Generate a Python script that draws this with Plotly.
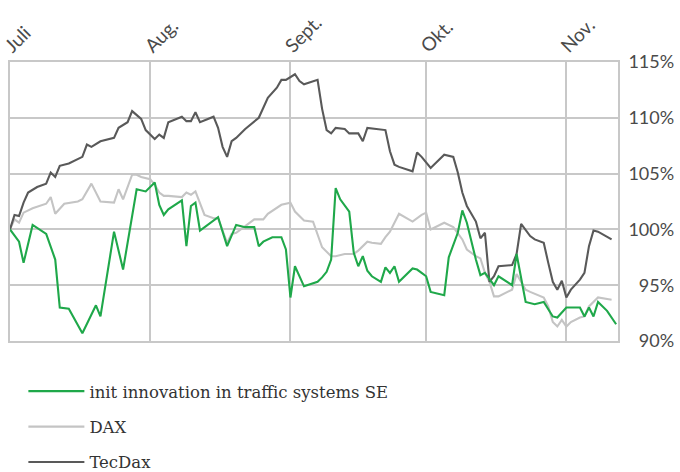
import plotly.graph_objects as go

# ---- data -------------------------------------------------------------
month_ticks = ["2019-07-01", "2019-08-01", "2019-09-01", "2019-10-01", "2019-11-01"]
month_labels = ["Juli", "Aug.", "Sept.", "Okt.", "Nov."]

y_ticks = [90, 95, 100, 105, 110, 115]
y_labels = ["\u200790%", "\u200795%", "100%", "105%", "110%", "115%"]

tec_dates = ["2019-07-01", "2019-07-02", "2019-07-03", "2019-07-04", "2019-07-05", "2019-07-07",
             "2019-07-09", "2019-07-10", "2019-07-11", "2019-07-12", "2019-07-14", "2019-07-17",
             "2019-07-18", "2019-07-19", "2019-07-21", "2019-07-24", "2019-07-25", "2019-07-27",
             "2019-07-28", "2019-07-30", "2019-07-31", "2019-08-02", "2019-08-03", "2019-08-04",
             "2019-08-05", "2019-08-08", "2019-08-09", "2019-08-10", "2019-08-11", "2019-08-12",
             "2019-08-15", "2019-08-16", "2019-08-17", "2019-08-18", "2019-08-19", "2019-08-20",
             "2019-08-22", "2019-08-25", "2019-08-27", "2019-08-29", "2019-08-30", "2019-08-31",
             "2019-09-02", "2019-09-03", "2019-09-04", "2019-09-07", "2019-09-08", "2019-09-09",
             "2019-09-10", "2019-09-11", "2019-09-13", "2019-09-14", "2019-09-16", "2019-09-17",
             "2019-09-18", "2019-09-20", "2019-09-22", "2019-09-23", "2019-09-24", "2019-09-25",
             "2019-09-28", "2019-09-29", "2019-09-30", "2019-10-02", "2019-10-04", "2019-10-05",
             "2019-10-07", "2019-10-08", "2019-10-09", "2019-10-10", "2019-10-12", "2019-10-13",
             "2019-10-14", "2019-10-15", "2019-10-16", "2019-10-17", "2019-10-20", "2019-10-21",
             "2019-10-22", "2019-10-24", "2019-10-25", "2019-10-27", "2019-10-28", "2019-10-29",
             "2019-10-30", "2019-10-31", "2019-11-01", "2019-11-02", "2019-11-04", "2019-11-05",
             "2019-11-06", "2019-11-07", "2019-11-08", "2019-11-11"]
tec_values = [100.0, 101.3, 101.2, 102.4, 103.3, 103.8,
              104.1, 105.1, 104.7, 105.7, 105.9, 106.5,
              107.6, 107.4, 107.9, 108.2, 109.1, 109.6,
              110.6, 109.9, 108.9, 108.1, 108.5, 108.2,
              109.6, 110.1, 109.7, 109.7, 110.5, 109.6,
              110.1, 109.1, 107.4, 106.5, 107.9, 108.2,
              109.0, 110.0, 111.8, 112.7, 113.4, 113.4,
              113.9, 113.3, 113.0, 113.4, 110.8, 108.9,
              108.6, 109.1, 109.0, 108.6, 108.6, 107.9,
              109.1, 109.0, 108.9, 107.0, 105.8, 105.6,
              105.2, 106.9, 106.5, 105.5, 106.3, 106.7,
              106.5, 105.1, 103.3, 102.1, 100.7, 99.2,
              99.7, 95.3, 95.8, 96.7, 96.8, 97.8,
              100.5, 99.4, 99.1, 98.8, 97.0, 95.3,
              94.6, 95.4, 93.9, 94.6, 95.5, 96.1,
              98.5, 99.9, 99.8, 99.1]

dax_dates = ["2019-07-01", "2019-07-02", "2019-07-03", "2019-07-04", "2019-07-06", "2019-07-09",
             "2019-07-10", "2019-07-11", "2019-07-13", "2019-07-16", "2019-07-17", "2019-07-19",
             "2019-07-21", "2019-07-24", "2019-07-25", "2019-07-26", "2019-07-28", "2019-07-29",
             "2019-07-30", "2019-07-31", "2019-08-01", "2019-08-02", "2019-08-03", "2019-08-04",
             "2019-08-05", "2019-08-08", "2019-08-09", "2019-08-10", "2019-08-11", "2019-08-13",
             "2019-08-15", "2019-08-16", "2019-08-18", "2019-08-19", "2019-08-20", "2019-08-22",
             "2019-08-24", "2019-08-26", "2019-08-27", "2019-08-30", "2019-09-01", "2019-09-02",
             "2019-09-04", "2019-09-06", "2019-09-07", "2019-09-08", "2019-09-10", "2019-09-11",
             "2019-09-13", "2019-09-15", "2019-09-16", "2019-09-18", "2019-09-19", "2019-09-21",
             "2019-09-22", "2019-09-23", "2019-09-25", "2019-09-28", "2019-09-30", "2019-10-01",
             "2019-10-02", "2019-10-05", "2019-10-07", "2019-10-09", "2019-10-10", "2019-10-12",
             "2019-10-13", "2019-10-14", "2019-10-15", "2019-10-16", "2019-10-17", "2019-10-20",
             "2019-10-21", "2019-10-22", "2019-10-23", "2019-10-24", "2019-10-27", "2019-10-28",
             "2019-10-29", "2019-10-30", "2019-10-31", "2019-11-01", "2019-11-02", "2019-11-04",
             "2019-11-05", "2019-11-06", "2019-11-07", "2019-11-08", "2019-11-11"]
dax_values = [100.0, 100.9, 100.6, 101.5, 101.9, 102.3,
              102.9, 101.4, 102.3, 102.5, 102.7, 104.1,
              102.5, 102.4, 103.6, 102.7, 104.9, 104.9,
              104.7, 104.6, 104.5, 104.0, 103.3, 103.0,
              103.0, 102.9, 103.3, 103.1, 103.4, 101.3,
              101.0, 101.0, 98.8, 99.6, 99.7, 100.3,
              100.9, 100.9, 101.4, 102.2, 102.4, 101.6,
              100.8, 100.7, 99.6, 98.4, 97.6, 97.6,
              97.8, 97.8, 98.1, 98.9, 98.8, 98.7,
              99.3, 99.8, 101.4, 100.7, 101.3, 101.5,
              100.0, 100.6, 100.2, 99.1, 98.2, 97.6,
              97.4, 96.1, 95.3, 94.0, 94.0, 94.6,
              96.0, 95.3, 94.6, 94.4, 93.9, 93.1,
              91.7, 91.3, 91.9, 91.3, 91.7, 92.1,
              92.2, 93.1, 93.5, 93.9, 93.7]

init_dates = ["2019-07-01", "2019-07-03", "2019-07-04", "2019-07-06", "2019-07-09", "2019-07-11",
              "2019-07-12", "2019-07-14", "2019-07-17", "2019-07-20", "2019-07-21", "2019-07-24",
              "2019-07-26", "2019-07-29", "2019-07-31", "2019-08-02", "2019-08-03", "2019-08-04",
              "2019-08-05", "2019-08-08", "2019-08-09", "2019-08-10", "2019-08-11", "2019-08-12",
              "2019-08-16", "2019-08-18", "2019-08-20", "2019-08-22", "2019-08-24", "2019-08-25",
              "2019-08-26", "2019-08-28", "2019-08-30", "2019-08-31", "2019-09-01", "2019-09-02",
              "2019-09-04", "2019-09-07", "2019-09-08", "2019-09-09", "2019-09-10", "2019-09-11",
              "2019-09-12", "2019-09-14", "2019-09-15", "2019-09-16", "2019-09-17", "2019-09-18",
              "2019-09-19", "2019-09-21", "2019-09-22", "2019-09-23", "2019-09-24", "2019-09-25",
              "2019-09-28", "2019-09-29", "2019-09-30", "2019-10-01", "2019-10-02", "2019-10-05",
              "2019-10-06", "2019-10-08", "2019-10-09", "2019-10-10", "2019-10-12", "2019-10-13",
              "2019-10-14", "2019-10-16", "2019-10-17", "2019-10-20", "2019-10-21", "2019-10-22",
              "2019-10-23", "2019-10-25", "2019-10-27", "2019-10-29", "2019-10-30", "2019-11-01",
              "2019-11-04", "2019-11-05", "2019-11-06", "2019-11-07", "2019-11-08", "2019-11-10",
              "2019-11-12"]
init_values = [100.0, 98.9, 97.0, 100.4, 99.6, 97.3,
               93.0, 92.9, 90.7, 93.2, 92.2, 99.8,
               96.4, 103.6, 103.4, 104.2, 102.2, 101.3,
               101.8, 102.6, 98.5, 102.1, 102.4, 99.9,
               101.1, 98.5, 100.4, 100.2, 100.2, 98.5,
               98.9, 99.3, 99.3, 98.2, 93.9, 96.7,
               94.9, 95.3, 95.7, 96.2, 97.3, 103.7,
               102.7, 101.6, 97.9, 96.7, 97.6, 96.3,
               95.8, 95.3, 96.6, 96.1, 96.7, 95.3,
               96.5, 96.4, 96.1, 95.8, 94.4, 94.1,
               97.5, 99.7, 101.7, 100.6, 97.3, 95.9,
               96.1, 95.0, 95.8, 95.0, 97.8, 95.8,
               93.5, 93.3, 93.5, 92.2, 92.1, 93.0,
               93.0, 92.2, 93.0, 92.2, 93.5, 92.7,
               91.5]

series_names = ["init innovation in traffic systems SE", "DAX", "TecDax"]
series_colors = ["#1fa84a", "#c4c4c4", "#595959"]

# ---- figure -----------------------------------------------------------
fig = go.Figure()
for i, (name, xs, ys) in enumerate([
        (series_names[0], init_dates, init_values),
        (series_names[1], dax_dates, dax_values),
        (series_names[2], tec_dates, tec_values)]):
    fig.add_trace(go.Scatter(
        x=xs, y=ys, mode="lines", name=name,
        line=dict(color=series_colors[i], width=2.1),
        legendgroup=name, legendrank=i + 1,
    ))

# draw order: DAX, TecDax beneath green
fig.data = (fig.data[1], fig.data[2], fig.data[0])

grid_col = "#c8c8c8"
fig.update_layout(
    width=680, height=472,
    margin=dict(l=10, r=62, t=62, b=131, autoexpand=False),
    paper_bgcolor="white", plot_bgcolor="white",
    showlegend=True,
    legend=dict(
        orientation="v", x=0.022, xanchor="left", y=-0.118, yanchor="top",
        font=dict(family="DejaVu Serif", size=16.5, color="#333333"),
        itemwidth=56, tracegroupgap=11, traceorder="grouped",
        bgcolor="rgba(0,0,0,0)",
    ),
    xaxis=dict(
        type="date", side="top", automargin=False,
        range=["2019-07-01", "2019-11-12 10:00"],
        tickmode="array", tickvals=month_ticks, ticktext=month_labels,
        tickangle=-45, tickfont=dict(family="Lato", size=19, color="#4a4a4a"),
        ticklabelshift=-4, ticklabelstandoff=-4, ticklabeloverflow="allow",
        showgrid=True, gridcolor=grid_col, gridwidth=1.6,
        showline=True, linecolor=grid_col, linewidth=1.6, mirror=True,
        ticks="", zeroline=False,
    ),
    yaxis=dict(
        side="right", range=[90, 115], automargin=False,
        tickmode="array", tickvals=y_ticks, ticktext=y_labels,
        tickfont=dict(family="Lato", size=18, color="#4a4a4a"),
        showgrid=True, gridcolor=grid_col, gridwidth=1.6,
        showline=True, linecolor=grid_col, linewidth=1.6, mirror=True,
        ticks="outside", ticklen=5, tickcolor="rgba(0,0,0,0)",
        zeroline=False,
    ),
)

fig.write_html("out.html", config={"displayModeBar": False},
               post_script="document.body.style.margin='0';")
